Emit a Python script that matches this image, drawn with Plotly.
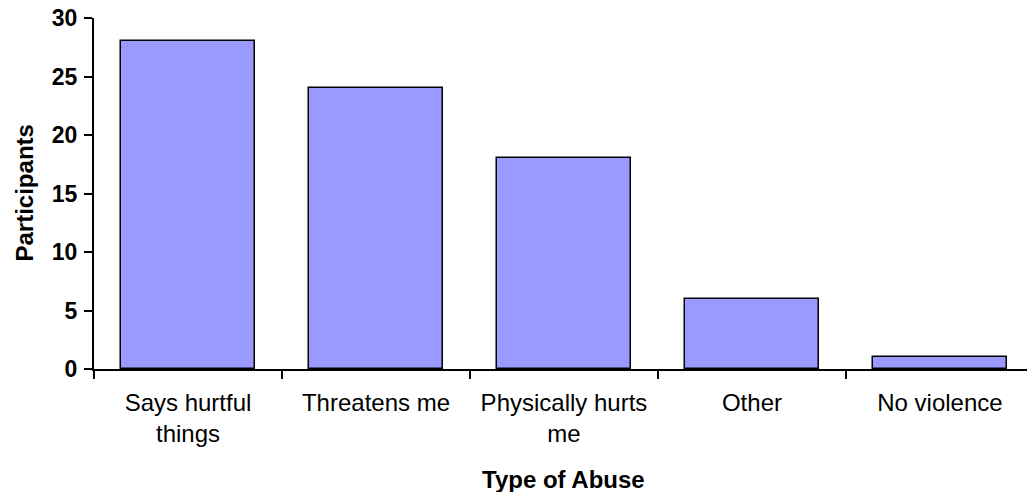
import plotly.graph_objects as go

# Reported types of abuse and number of participants
categories = ["Says hurtful<br>things", "Threatens me", "Physically hurts<br>me", "Other", "No violence"]
participants = [28, 24, 18, 6, 1]
y_ticks = [0, 5, 10, 15, 20, 25, 30]

fig = go.Figure(
    go.Bar(
        x=categories,
        y=participants,
        width=0.713,
        marker=dict(color="#9999FF", line=dict(color="#000000", width=1.5)),
        hoverinfo="skip",
    )
)

axis_font = dict(family="Arial, Liberation Sans, sans-serif", color="#000000")

fig.update_layout(
    width=1027,
    height=492,
    margin=dict(l=94, r=0, t=18, b=123, autoexpand=False),
    paper_bgcolor="#FFFFFF",
    plot_bgcolor="#FFFFFF",
    showlegend=False,
    bargap=0,
    xaxis=dict(
        type="category",
        categoryorder="array",
        categoryarray=categories,
        range=[-0.5, 4.463],
        tickson="boundaries",
        showgrid=False,
        zeroline=False,
        showline=True,
        linecolor="#000000",
        linewidth=2,
        ticks="outside",
        ticklen=8,
        tickwidth=1.5,
        tickcolor="#000000",
        ticklabelstandoff=11,
        tickfont=dict(size=24, **axis_font),
        automargin=False,
    ),
    yaxis=dict(
        range=[0, 30],
        tickmode="array",
        tickvals=y_ticks,
        ticktext=[f"<b>{v}</b>" for v in y_ticks],
        showgrid=False,
        zeroline=False,
        showline=True,
        linecolor="#000000",
        linewidth=2,
        ticks="outside",
        ticklen=8,
        tickwidth=2,
        tickcolor="#000000",
        ticklabelstandoff=2,
        tickfont=dict(size=23, **axis_font),
        automargin=False,
    ),
    annotations=[
        dict(
            text="<b>Participants</b>",
            xref="paper", yref="paper", x=0, y=0.5,
            xanchor="center", yanchor="middle",
            xshift=-70, textangle=-90, showarrow=False,
            font=dict(size=24, **axis_font),
        ),
        dict(
            text="<b>Type of Abuse</b>",
            xref="paper", yref="paper", x=0, y=0,
            xanchor="center", yanchor="middle",
            xshift=469, yshift=-110, showarrow=False,
            font=dict(size=24, **axis_font),
        ),
    ],
)

fig.write_html("out.html")
